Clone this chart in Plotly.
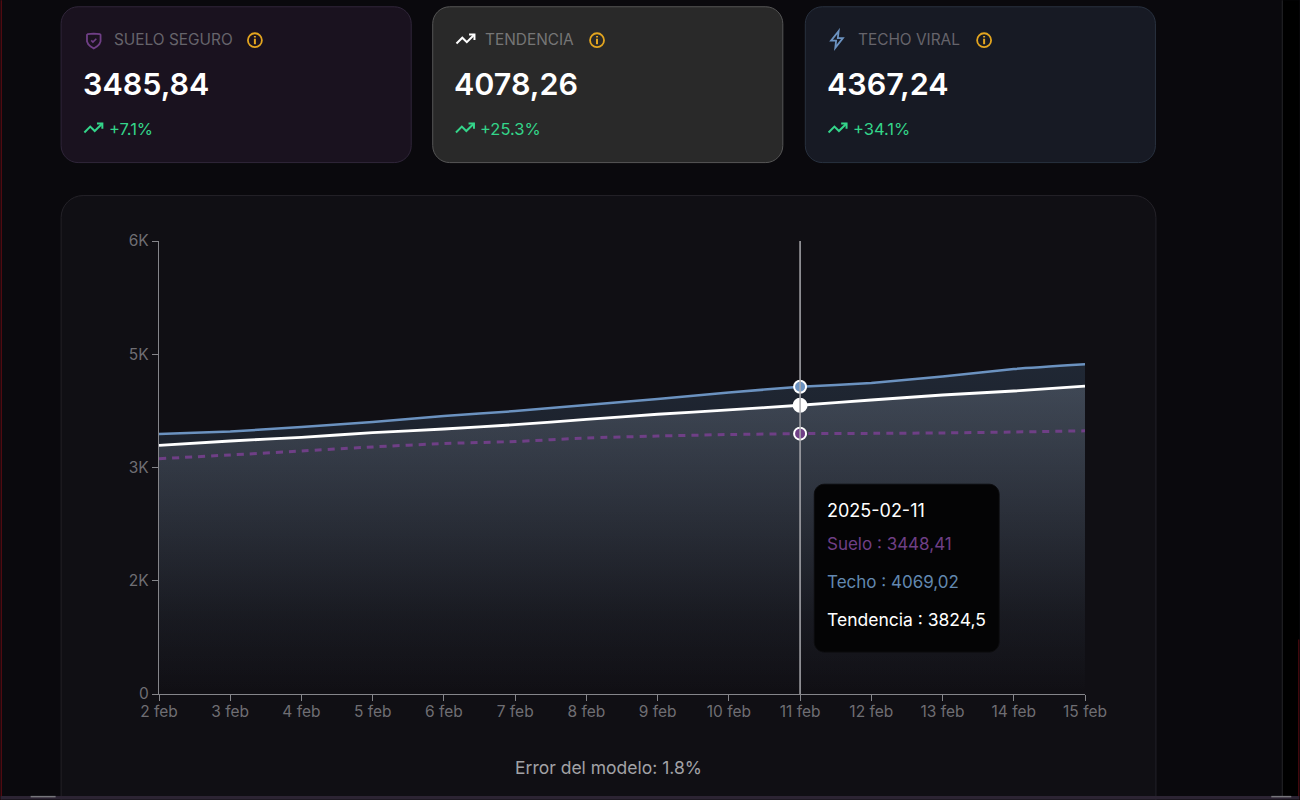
import plotly.graph_objects as go

# ---- data -------------------------------------------------------------
dates = ["2025-02-%02d" % d for d in range(2, 16)]
tick_labels = ["2 feb", "3 feb", "4 feb", "5 feb", "6 feb", "7 feb", "8 feb",
               "9 feb", "10 feb", "11 feb", "12 feb", "13 feb", "14 feb", "15 feb"]
suelo = [3117, 3166, 3219, 3272, 3318, 3344, 3391, 3417, 3437, 3448.41, 3452, 3458, 3470, 3485.84]
techo = [3444, 3477, 3536, 3603, 3682, 3748, 3828, 3907, 3993, 4069.02, 4119, 4205, 4305, 4367.24]
tendencia = [3294, 3351, 3400, 3461, 3510, 3567, 3638, 3705, 3762, 3824.5, 3894, 3960, 4013, 4078.26]
y_ticks = [0, 1500, 3000, 4500, 6000]
y_tick_labels = ["0", "2K", "3K", "5K", "6K"]
hover_index = 9
hover_date = "2025-02-11"
card_titles = ["SUELO SEGURO", "TENDENCIA", "TECHO VIRAL"]
card_values = ["3485,84", "4078,26", "4367,24"]
card_changes = ["+7.1%", "+25.3%", "+34.1%"]
tooltip_lines = ["Suelo : 3448,41", "Techo : 4069,02", "Tendencia : 3824,5"]
footer = "Error del modelo: 1.8%"

# ---- layout helpers ---------------------------------------------------
L, R, T, B = 158.5, 1085.5, 241, 694.5
FONT = "Inter, 'Noto Sans', sans-serif"
C_SUELO, C_TECHO, C_TEND = "#6f3f86", "#6b92c0", "#ffffff"
C_TICK, C_AXIS = "#6f6e73", "#85858a"


def px(x):
    return (x - L) / (R - L)


def py(y):
    return (B - y) / (B - T)


shapes, annos = [], []


def rrect(x0, y0, x1, y1, r, fill, line, layer="below"):
    k = 0.45 * r
    pts = [("M", (x0 + r, y0)), ("L", (x1 - r, y0)),
           ("C", (x1 - k, y0), (x1, y0 + k), (x1, y0 + r)), ("L", (x1, y1 - r)),
           ("C", (x1, y1 - k), (x1 - k, y1), (x1 - r, y1)), ("L", (x0 + r, y1)),
           ("C", (x0 + k, y1), (x0, y1 - k), (x0, y1 - r)), ("L", (x0, y0 + r)),
           ("C", (x0, y0 + k), (x0 + k, y0), (x0 + r, y0))]
    d = " ".join(c + " " + " ".join(f"{px(p[0]):.5f} {py(p[1]):.5f}" for p in ps) for c, *ps in pts) + " Z"
    shapes.append(dict(type="path", path=d, xref="paper", yref="paper", fillcolor=fill,
                       line=dict(color=line, width=1), layer=layer))


def rect(x0, y0, x1, y1, fill):
    shapes.append(dict(type="rect", xref="paper", yref="paper", x0=px(x0), x1=px(x1),
                       y0=py(y1), y1=py(y0), fillcolor=fill, line=dict(width=0), layer="below"))


def poly(points, ox, oy, s, color, width=1.7, close=False):
    d = " ".join(("M" if i == 0 else "L") + f" {px(ox + a * s):.5f} {py(oy + b * s):.5f}"
                 for i, (a, b) in enumerate(points))
    if close:
        d += " Z"
    shapes.append(dict(type="path", path=d, xref="paper", yref="paper",
                       line=dict(color=color, width=width), layer="above"))


def text(x, y, s, size, color, weight=400, anchor="left"):
    annos.append(dict(x=px(x), y=py(y), xref="paper", yref="paper", text=s, showarrow=False,
                      xanchor=anchor, yanchor="middle", align=anchor,
                      font=dict(family=FONT, size=size, color=color, weight=weight),
                      borderpad=0, borderwidth=0))


TREND = [[(2, 17), (8.5, 10.5), (13.5, 15.5), (22, 7)], [(16, 7), (22, 7), (22, 13)]]
SHIELD = [(12, 4), (5, 4.5), (4, 5.5), (4, 13), (5.5, 16.5), (8, 19), (12, 21.5), (16, 19), (18.5, 16.5),
          (20, 13), (20, 5.5), (19, 4.5)]
CHECK = [(9, 12), (11, 14), (15, 10)]
ZAP = [(14, 2), (5, 13.5), (11, 13.5), (10, 22), (19, 10.5), (13, 10.5)]


def info(cx, cy):
    c = "#e3a51f"
    shapes.append(dict(type="circle", xref="paper", yref="paper", x0=px(cx - 7), x1=px(cx + 7),
                       y0=py(cy + 7), y1=py(cy - 7), line=dict(color=c, width=1.8), layer="above"))
    poly([(0, 0), (0, 5.5)], cx, cy - 1.5, 1, c, 2)
    poly([(0, 0), (0, 1.4)], cx, cy - 4.2, 1, c, 2)


# page
rect(1283, 0, 1300, 800, "#000000")
rect(1282.5, 0, 1283.5, 797, "#26262a")
rect(0, 0, 1.2, 800, "#5a0b12")
rect(1299, 640, 1300, 800, "#5a0b12")

# chart panel
rrect(60.5, 195.5, 1156.5, 860, 22, "#100f14", "#242228")

# bottom window edge, over the panel
rect(0, 796.5, 1300, 800, "#2c2433")
rect(30, 796.5, 55, 798, "#77767c")
rect(1272, 796.5, 1292, 798, "#77767c")

# cards
cards = [(60.5, "#1a121f", "#30263a"), (432.5, "#292929", "#565656"), (805.5, "#171a24", "#28313f")]
for i, (x0, fill, border) in enumerate(cards):
    rrect(x0, 6.5, x0 + 350.5, 162.5, 17, fill, border)
    tx = x0 + 21.5
    text(tx + 31, 39, card_titles[i], 15.4, "#66646b" if i != 1 else "#767676", 400)
    text(tx, 83.5, card_values[i], 30.5, "#ffffff", 600)
    text(tx + 26, 128.5, card_changes[i], 16.5, "#34d58a", 400)
    for seg in TREND:
        poly(seg, tx, 117, 0.9, "#34d58a", 2)
info(254.5, 40)
info(597, 40)
info(984.5, 40)
poly(SHIELD, 83, 30, 0.85, C_SUELO, 1.8, close=True)
poly(CHECK, 83, 30, 0.85, C_SUELO, 1.6)
for seg in TREND:
    poly(seg, 454.5, 28, 0.9, "#ffffff", 2)
poly(ZAP, 827, 29, 0.85, C_TECHO, 1.8, close=True)

# crosshair + tooltip
shapes.append(dict(type="line", xref="x", yref="paper", x0=hover_date, x1=hover_date, y0=0, y1=1,
                   line=dict(color="#a9a9ad", width=1.5), layer="above"))
rrect(814.5, 484.5, 999.5, 652.5, 10, "#040405", "#0c0c0e", layer="above")
text(827, 511, hover_date, 18, "#ffffff", 400)
text(827, 544, tooltip_lines[0], 17, C_SUELO)
text(827, 582, tooltip_lines[1], 17, "#6288b0")
text(827, 620, tooltip_lines[2], 17.5, "#ffffff")
text(608, 768, footer, 17.5, "#a2a2a6", 400, "center")

# ---- traces -----------------------------------------------------------
fig = go.Figure()
spline = dict(shape="spline", smoothing=0.4)
fig.add_trace(go.Scatter(x=dates, y=techo, mode="lines", name="Techo", fill="tozeroy",
                         line=dict(color=C_TECHO, width=2.5, **spline),
                         fillgradient=dict(type="vertical", colorscale=[[0, "rgba(110,160,210,0)"], [1, "rgba(110,160,210,0.17)"]])))
fig.add_trace(go.Scatter(x=dates, y=tendencia, mode="lines", name="Tendencia", fill="tozeroy",
                         line=dict(color=C_TEND, width=2.8, **spline),
                         fillgradient=dict(type="vertical", colorscale=[[0, "rgba(220,235,255,0)"], [0.25, "rgba(220,235,255,0.025)"], [1, "rgba(220,235,255,0.17)"]])))
fig.add_trace(go.Scatter(x=dates, y=suelo, mode="lines", name="Suelo",
                         line=dict(color=C_SUELO, width=3, dash="7px,6px", **spline)))
for series, color, size in [(techo, C_TECHO, 12), (tendencia, C_TEND, 13), (suelo, C_SUELO, 12)]:
    fig.add_trace(go.Scatter(x=[dates[hover_index]], y=[series[hover_index]], mode="markers",
                             marker=dict(color=color, size=size, line=dict(color="#ffffff", width=2)),
                             cliponaxis=False))

axis_common = dict(showgrid=False, zeroline=False, showline=True, linecolor=C_AXIS, linewidth=1.4,
                   ticks="outside", tickcolor=C_AXIS, tickwidth=1.4, ticklen=6,
                   tickfont=dict(family=FONT, size=15.5, color=C_TICK))
fig.update_layout(
    width=1300, height=800, showlegend=False, hovermode=False,
    margin=dict(l=L, r=1300 - R, t=T, b=800 - B, pad=0),
    paper_bgcolor="#0a090d", plot_bgcolor="rgba(0,0,0,0)",
    shapes=shapes, annotations=annos,
    xaxis=dict(type="date", range=[dates[0], dates[-1]], tickmode="array", tickvals=dates,
               ticktext=tick_labels, ticklabelstandoff=-3, **axis_common),
    yaxis=dict(range=[0, 6000], tickmode="array", tickvals=y_ticks, ticktext=y_tick_labels, **axis_common),
)
fig.write_html("out.html", config=dict(displayModeBar=False),
               post_script="document.body.style.margin='0';document.body.style.overflow='hidden';document.body.style.background='#0a090d';")
